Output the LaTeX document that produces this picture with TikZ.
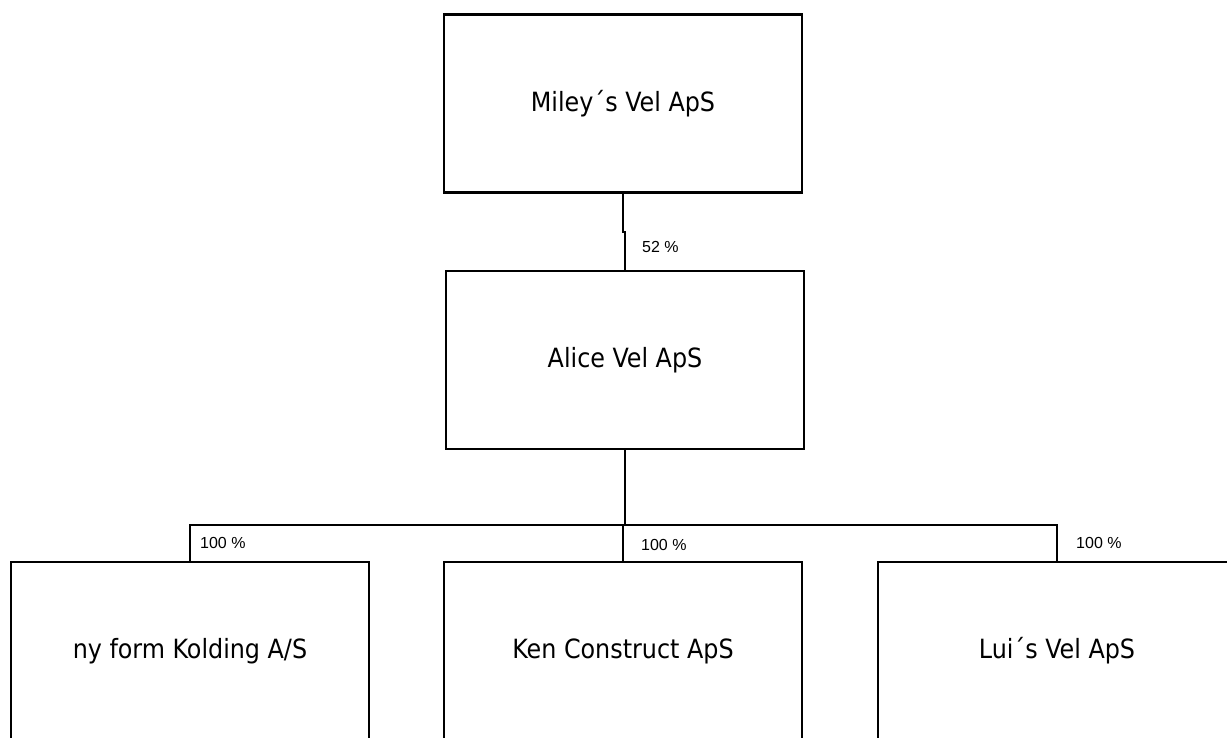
\documentclass[tikz,border=0pt]{standalone}
\usepackage{fontspec}
\setmainfont{Liberation Sans}
\newfontfamily\boxfont{DejaVu Sans Condensed}
\begin{document}
\begin{tikzpicture}[x=1pt,y=-1pt,
  entity/.style={draw, line width=2.6pt, rectangle, minimum width=358pt, minimum height=178pt, inner sep=0pt, font=\boxfont\fontsize{26.5}{30}\selectfont},
  conn/.style={line width=2.6pt},
  pct/.style={anchor=west, inner sep=0pt, font=\fontsize{16}{19}\selectfont}]
\useasboundingbox (0,0) rectangle (1227,738);
\clip (0,0) rectangle (1227,738);
\node[entity] (top) at (623,103.5) {Miley´s Vel ApS};
\node[entity] (mid) at (625,360) {Alice Vel ApS};
\node[entity] (b1) at (190,651) {ny form Kolding A/S};
\node[entity] (b2) at (623,651) {Ken Construct ApS};
\node[entity] (b3) at (1057,651) {Lui´s Vel ApS};
\coordinate (jog) at (624,232);
\coordinate (bus) at (0,525);
\draw[conn] (top.south) -- (top.south |- jog) -- (mid.north |- jog) -- (mid.north);
\draw[conn] (mid.south) -- (mid.south |- bus);
\draw[conn] (b1.north) -- (b1.north |- bus) -- (b3.north |- bus) -- (b3.north);
\draw[conn] (b2.north) -- (b2.north |- bus);
\node[pct] (l52) at (642,247) {52 \%};
\node[pct] (l1) at (200,543) {100 \%};
\node[pct] (l2) at (641,545) {100 \%};
\node[pct] (l3) at (1076,543) {100 \%};
\end{tikzpicture}
\end{document}
